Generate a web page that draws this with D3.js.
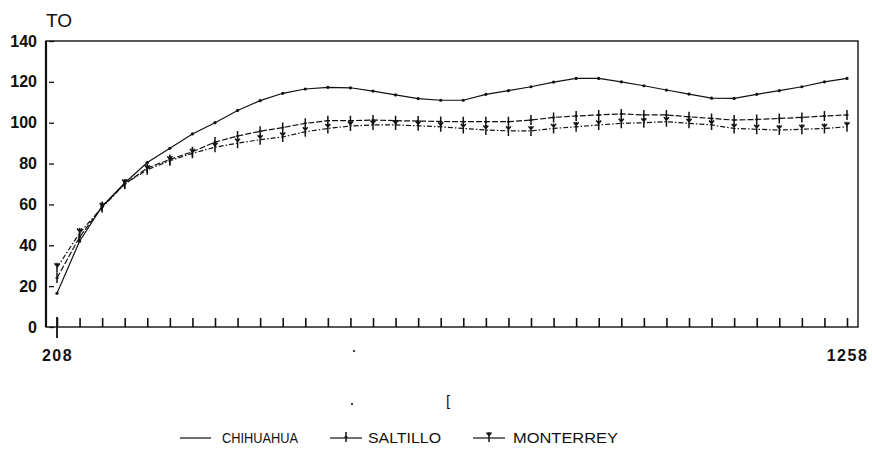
<!DOCTYPE html>
<html>
<head>
<meta charset="utf-8">
<script src="https://cdn.jsdelivr.net/npm/d3@7"></script>
<style>
  body { margin: 0; background: #fff; }
  svg { display: block; }
  text { font-family: "Liberation Sans", Arial, sans-serif; fill: #111; }
</style>
</head>
<body>
<script>
// x positions (one point per tick)
const xValues = [208, 238, 268, 298, 328, 358, 388, 418, 448, 478, 508, 538,
  568, 598, 628, 658, 688, 718, 748, 778, 808, 838, 868, 898,
  928, 958, 988, 1018, 1048, 1078, 1108, 1138, 1168, 1198, 1228, 1258];
const xLabels = [208, 1258];
const yTicks = [0, 20, 40, 60, 80, 100, 120, 140];

const chihuahua = [16.5, 42, 59, 70.5, 80.5, 87.5, 94.5, 100, 106, 110.8, 114.4, 116.5,
  117.3, 117.1, 115.5, 113.6, 111.8, 111, 111, 113.9, 115.7, 117.6, 119.9, 121.7,
  121.7, 120, 118.1, 116, 114, 112, 111.9, 113.9, 115.7, 117.6, 120, 121.7];
const saltillo = [24, 44, 59, 70, 77.8, 82, 85.8, 90.5, 93.5, 95.8, 97.6, 99.7,
  101, 101, 101.3, 101, 100.8, 100.6, 100.5, 100.5, 100.5, 101.3, 102.6, 103.3,
  103.8, 104.3, 103.8, 103.8, 102.9, 102.1, 101.3, 101.6, 102.1, 102.6, 103.3, 103.8];
const monterrey = [29, 46, 58.5, 70, 77, 81.4, 85, 88, 90, 91.7, 93, 95.6,
  97.2, 98.4, 98.9, 98.9, 98.5, 98, 97.2, 96.4, 96, 96, 97.2, 98,
  98.9, 99.7, 100, 100.5, 99.7, 98.9, 97.2, 96.8, 96.4, 96.8, 97.2, 98];

const seriesNames = ['CHIHUAHUA', 'SALTILLO', 'MONTERREY'];

const width = 872;
const height = 451;
const plot = { left: 46, right: 858, top: 41, bottom: 327 };

const svg = d3.select('body').append('svg')
  .attr('width', width)
  .attr('height', height);

const xScale = d3.scaleLinear()
  .domain([208, 1258])
  .range([57, 847]);

const yScale = d3.scaleLinear()
  .domain([0, 140])
  .range([plot.bottom, plot.top]);

// frame
svg.append('rect')
  .attr('x', plot.left)
  .attr('y', plot.top)
  .attr('width', plot.right - plot.left)
  .attr('height', plot.bottom - plot.top)
  .attr('fill', 'none')
  .attr('stroke', '#111')
  .attr('stroke-width', 1.4);

svg.append('line')
  .attr('x1', plot.left).attr('x2', plot.left)
  .attr('y1', plot.top).attr('y2', plot.bottom)
  .attr('stroke', '#111').attr('stroke-width', 2.2);

// y axis
const yAxis = d3.axisLeft(yScale)
  .tickValues(yTicks)
  .tickSizeInner(-6)
  .tickSizeOuter(0)
  .tickPadding(9);

const yG = svg.append('g')
  .attr('transform', `translate(${plot.left}, 0)`)
  .call(yAxis);
yG.select('.domain').remove();
yG.selectAll('.tick line').attr('stroke', '#111').attr('stroke-width', 1.3)
  .attr('x1', 3).attr('x2', 8);
yG.selectAll('.tick text')
  .style('font-family', '"Liberation Sans", Arial, sans-serif')
  .style('font-size', '16px')
  .style('font-weight', 'bold')
  .attr('fill', '#111');

// x axis
const xAxis = d3.axisBottom(xScale)
  .tickValues(xValues)
  .tickSizeInner(-9)
  .tickSizeOuter(0)
  .tickPadding(23)
  .tickFormat(d => xLabels.includes(d) ? d : '');

const xG = svg.append('g')
  .attr('transform', `translate(0, ${plot.bottom})`)
  .call(xAxis);
xG.select('.domain').remove();
xG.selectAll('.tick line').attr('stroke', '#111').attr('stroke-width', 1.6);
xG.selectAll('.tick text')
  .style('font-family', '"Liberation Sans", Arial, sans-serif')
  .style('font-size', '16px')
  .style('font-weight', 'bold')
  .style('letter-spacing', '1.5px')
  .attr('fill', '#111');

// first tick crosses the axis
xG.append('line')
  .attr('x1', xScale(xLabels[0])).attr('x2', xScale(xLabels[0]))
  .attr('y1', -10).attr('y2', 11)
  .attr('stroke', '#111').attr('stroke-width', 1.8);

// y label
svg.append('text')
  .attr('x', 46)
  .attr('y', 27)
  .style('font-size', '19px')
  .text('TO');

const series = [
  { name: seriesNames[0], values: chihuahua, dash: null, marker: 'dot' },
  { name: seriesNames[1], values: saltillo, dash: '6,2', marker: 'plus' },
  { name: seriesNames[2], values: monterrey, dash: '5,2,1.5,2', marker: 'star' }
];

const markerPath = {
  plus: 'M0,-5V5M-1.5,0H1.5',
  star: 'M0,-5V5M-2.5,-4.5L0,-1.5L2.5,-4.5'
};

const line = d3.line()
  .x((d, i) => xScale(xValues[i]))
  .y(d => yScale(d));

const drawMarker = (g, type, x, y) => {
  if (type === 'dot') {
    g.append('circle')
      .attr('cx', x).attr('cy', y).attr('r', 1.6)
      .attr('fill', '#111');
  } else {
    g.append('path')
      .attr('d', markerPath[type])
      .attr('transform', `translate(${x},${y})`)
      .attr('fill', 'none')
      .attr('stroke', '#111')
      .attr('stroke-width', 1.5);
  }
};

series.forEach(s => {
  const g = svg.append('g');
  g.append('path')
    .datum(s.values)
    .attr('d', line)
    .attr('fill', 'none')
    .attr('stroke', '#111')
    .attr('stroke-width', 1.2)
    .attr('stroke-dasharray', s.dash);
  s.values.forEach((v, i) => drawMarker(g, s.marker, xScale(xValues[i]), yScale(v)));
});

// scan marks below the axis
svg.append('circle').attr('cx', 354).attr('cy', 351).attr('r', 1.1).attr('fill', '#111');
svg.append('circle').attr('cx', 352).attr('cy', 404).attr('r', 1.1).attr('fill', '#111');
svg.append('text')
  .attr('x', 446).attr('y', 406)
  .style('font-size', '15px')
  .text('[');

// legend
const legendItems = [
  { x1: 180, x2: 211, tx: 222, tw: 76 },
  { x1: 330, x2: 362, tx: 368, tw: 73 },
  { x1: 473, x2: 505, tx: 513, tw: 105 }
];
const legendY = 438;

legendItems.forEach((item, i) => {
  const s = series[i];
  const g = svg.append('g');
  g.append('line')
    .attr('x1', item.x1).attr('x2', item.x2)
    .attr('y1', legendY).attr('y2', legendY)
    .attr('stroke', '#111')
    .attr('stroke-width', 1.2);
  if (s.marker !== 'dot') {
    drawMarker(g, s.marker, (item.x1 + item.x2) / 2, legendY - 1);
  }
  g.append('text')
    .attr('x', item.tx)
    .attr('y', legendY + 5)
    .attr('textLength', item.tw)
    .attr('lengthAdjust', 'spacingAndGlyphs')
    .style('font-size', '14px')
    .text(s.name);
});
</script>
</body>
</html>
